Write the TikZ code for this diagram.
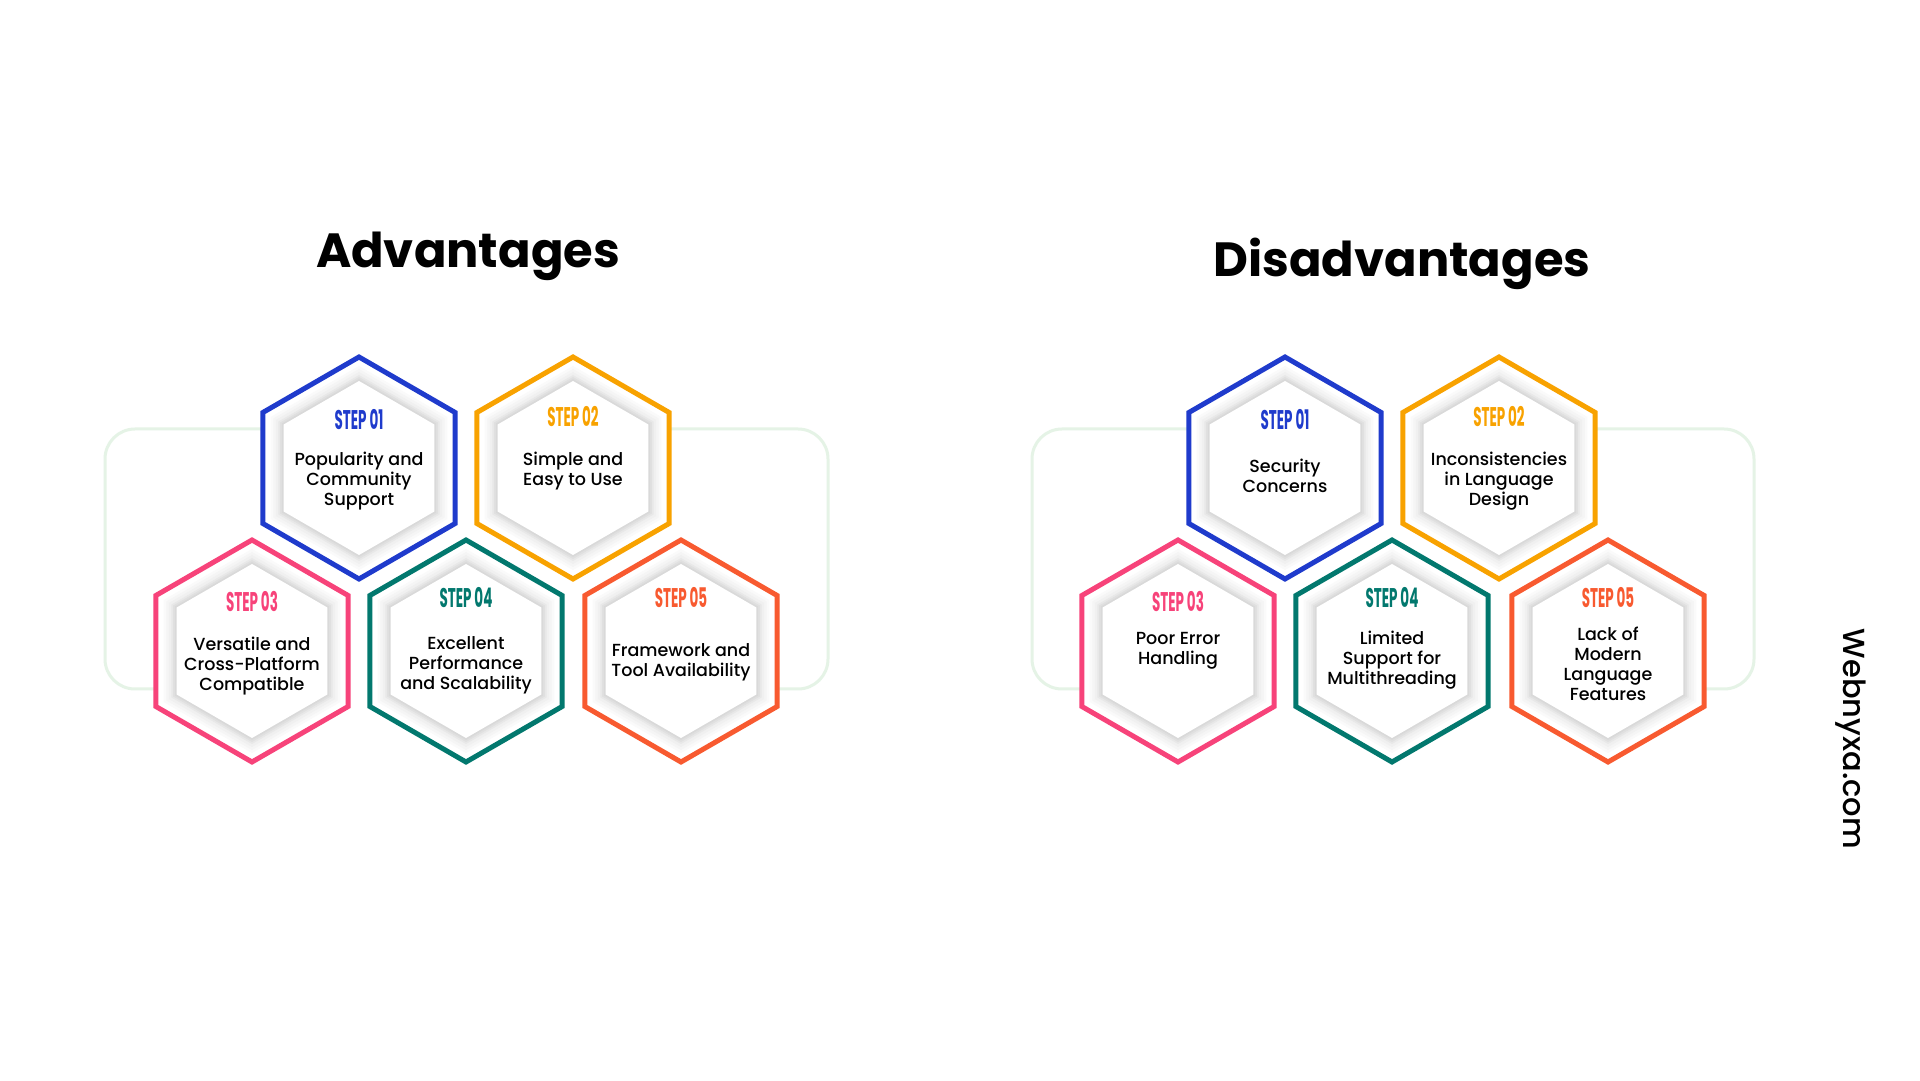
\documentclass[tikz,border=0pt]{standalone}
\usepackage{fontspec}
\setmainfont{Poppins}
\newfontfamily\medfont{Poppins Medium}
\usepackage{tikz}

\definecolor{cblue}{HTML}{1F3BCC}
\definecolor{corange}{HTML}{F8A200}
\definecolor{cpink}{HTML}{F7437A}
\definecolor{cteal}{HTML}{02786E}
\definecolor{cred}{HTML}{F85A30}
\definecolor{cframe}{HTML}{E5F3E6}

% hexagon with a vertex on top, centre #1, radius #2
\newcommand{\hexat}[2]{(#1) +(90:#2) -- +(150:#2) -- +(210:#2) -- +(270:#2) -- +(330:#2) -- +(30:#2) -- cycle}
\newcommand{\steptext}[1]{\scalebox{0.5}[1]{\bfseries STEP #1}}

\tikzset{
  heading/.style={anchor=base,font=\bfseries\fontsize{48}{50}\selectfont},
  steplabel/.style={font=\fontsize{27}{29}\selectfont,inner sep=0pt},
  celltext/.style={align=center,font=\medfont\fontsize{17.5}{20}\selectfont,inner sep=0pt},
  frame/.style={draw=cframe,line width=3pt,rounded corners=30pt}
}

\begin{document}
\begin{tikzpicture}[x=1pt,y=1pt]
    \useasboundingbox (0,0) rectangle (1920,1080);
    \fill[white] (0,0) rectangle (1920,1080);

    \node[heading] (adv) at (468,812) {Advantages};
    \node[heading] (dis) at (1402,803) {Disadvantages};

    % frames behind the hexagons, open between them
    \draw[frame] (300,651) -- (105,651) -- (105,391) -- (200,391);
    \draw[frame] (630,651) -- (828,651) -- (828,391) -- (730,391);
    \draw[frame] (1226,651) -- (1032,651) -- (1032,391) -- (1126,391);
    \draw[frame] (1556,651) -- (1754,651) -- (1754,391) -- (1656,391);

    \foreach \name/\x/\y/\col/\num/\sy/\dy/\txt in {
        a1/359/612/cblue/01/48/-13/{Popularity and\\Community\\Support},
        a2/573/612/corange/02/51/-3/{Simple and\\Easy to Use},
        a3/252/429/cpink/03/49/-15/{Versatile and\\Cross-Platform\\Compatible},
        a4/466/429/cteal/04/53/-14/{Excellent\\Performance\\and Scalability},
        a5/681/429/cred/05/53/-11/{Framework and\\Tool Availability},
        b1/1285/612/cblue/01/48/-8/{Security\\Concerns},
        b2/1499/612/corange/02/51/-13/{Inconsistencies\\in Language\\Design},
        b3/1178/429/cpink/03/49/0/{Poor Error\\Handling},
        b4/1392/429/cteal/04/53/-9/{Limited\\Support for\\Multithreading},
        b5/1608/429/cred/05/53/-13/{Lack of\\Modern\\Language\\Features}}
    {
      \coordinate (\name) at (\x,\y);
      \fill[white] \hexat{\name}{111};
      % soft shadow round the inner hexagon
      \foreach \r/\s in {102/2,99/4,96/6,93/9,91/12,89/15}
        \fill[black!\s] \hexat{\name}{\r};
      \fill[white] \hexat{\name}{87};
      \draw[\col,line width=5pt] \hexat{\name}{111};
      \node[steplabel,text=\col] (\name-step) at ([yshift=\sy]\name) {\steptext{\num}};
      \node[celltext] (\name-text) at ([yshift=\dy]\name) {\txt};
    }

    \node[font=\medfont\fontsize{30.5}{32}\selectfont,rotate=-90] (site) at (1851,341) {Webnyxa.com};
  \end{tikzpicture}
\end{document}
